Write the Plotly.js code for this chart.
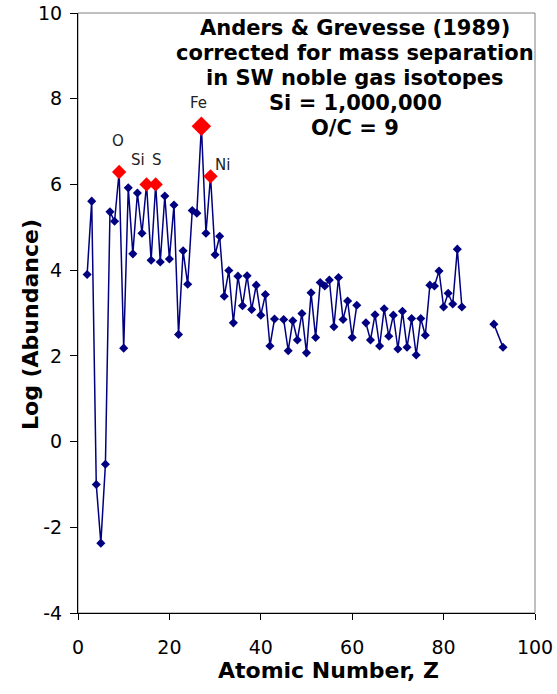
<!DOCTYPE html>
<html>
<head>
<meta charset="utf-8">
<script src="https://cdn.plot.ly/plotly-3.0.1.min.js"></script>
<style>html,body{margin:0;padding:0;background:#fff;}#chart{width:557px;height:694px;}</style>
</head>
<body>
<div id="chart"></div>
<script>
// Atomic number axis position (as plotted) and log abundance; null = no data (gap)
const atomicNumberX = [2,3,4,5,6,7,8,9,10,11,12,13,14,15,16,17,18,19,20,21,22,23,24,25,26,27,28,29,30,31,32,33,34,35,36,37,38,39,40,41,42,43,44,45,46,47,48,49,50,51,52,53,54,55,56,57,58,59,60,61,62,63,64,65,66,67,68,69,70,71,72,73,74,75,76,77,78,79,80,81,82,83,84,85,91,93];
const logAbundance = [3.90,5.61,-1.00,-2.37,-0.53,5.36,5.14,6.29,2.18,5.92,4.38,5.80,4.86,6.00,4.23,6.00,4.19,5.73,4.26,5.52,2.50,4.45,3.67,5.39,5.33,7.36,4.86,6.19,4.36,4.79,3.39,3.99,2.77,3.86,3.17,3.87,3.08,3.65,2.95,3.43,2.23,2.86,null,2.85,2.12,2.82,2.37,2.99,2.07,3.47,2.43,3.71,3.63,3.77,2.68,3.83,2.85,3.28,2.43,3.18,null,2.77,2.37,2.96,2.23,3.10,2.46,2.95,2.16,3.04,2.20,2.87,2.02,2.87,2.48,3.65,3.63,3.98,3.14,3.46,3.21,4.49,3.14,null,2.74,2.20];

// Highlighted elements
const highlightX = [9,15,17,27,29];
const highlightLabels = ['O','Si','S','Fe','Ni'];

// Tick values
const xTicks = [0,20,40,60,80,100];
const yTicks = [-4,-2,0,2,4,6,8,10];

const titleLines = ['Anders &amp; Grevesse (1989)','corrected for mass separation','in SW noble gas isotopes','Si = 1,000,000','O/C = 9'];
const xTitle = 'Atomic Number, Z';
const yTitle = 'Log (Abundance)';

// styling (not data)
const labelOffsets = {O:[-1,31], Si:[-9,24], S:[1,24], Fe:[-3,23], Ni:[12,11]};
const highlightSizes = {O:11, Si:11, S:11, Fe:15, Ni:11};

const highlightY = highlightX.map(x => logAbundance[atomicNumberX.indexOf(x)]);

const FONT = 'DejaVu Sans, Verdana, sans-serif';
const W = 557, H = 694, M = {l: 78, r: 22, t: 13, b: 81};
const PW = W - M.l - M.r, PH = H - M.t - M.b;
const px2paperX = p => (p - M.l) / PW;
const px2paperY = p => 1 - (p - M.t) / PH;

const traces = [
  {
    type: 'scatter', mode: 'lines+markers',
    x: atomicNumberX, y: logAbundance,
    connectgaps: false,
    line: {color: '#000080', width: 1.5},
    marker: {symbol: 'diamond', size: 7, color: '#000080', opacity: 1},
    hoverinfo: 'x+y', showlegend: false
  },
  {
    type: 'scatter', mode: 'markers',
    x: highlightX, y: highlightY,
    marker: {symbol: 'diamond', size: highlightLabels.map(l => highlightSizes[l]), color: '#ff0000', opacity: 1, line: {width: 0}},
    text: highlightLabels, hoverinfo: 'text+y', showlegend: false
  }
];

const annotations = highlightLabels.map((lab, i) => ({
  x: highlightX[i], y: highlightY[i], xref: 'x', yref: 'y',
  text: lab, showarrow: false,
  xshift: labelOffsets[lab][0], yshift: labelOffsets[lab][1],
  font: {family: FONT, size: 15, color: '#222'}
}));

// title block lines (centres in px)
const titleCentreX = 355, titleFirstY = 28, titleSpacing = 25;
titleLines.forEach((t, i) => annotations.push({
  xref: 'paper', yref: 'paper', x: px2paperX(titleCentreX), y: px2paperY(titleFirstY + i * titleSpacing),
  xanchor: 'center', yanchor: 'middle', showarrow: false,
  text: '<b>' + t + '</b>',
  font: {family: FONT, size: 21, color: '#000'}
}));

// axis titles
annotations.push({
  xref: 'paper', yref: 'paper', x: px2paperX(328), y: px2paperY(670),
  xanchor: 'center', yanchor: 'middle', showarrow: false,
  text: '<b>' + xTitle + '</b>', font: {family: FONT, size: 22, color: '#000'}
});
annotations.push({
  xref: 'paper', yref: 'paper', x: px2paperX(30), y: px2paperY(325),
  xanchor: 'center', yanchor: 'middle', showarrow: false, textangle: -90,
  text: '<b>' + yTitle + '</b>', font: {family: FONT, size: 22, color: '#000'}
});

const layout = {
  width: W, height: H,
  margin: M,
  paper_bgcolor: '#fff', plot_bgcolor: '#fff',
  font: {family: FONT, color: '#000'},
  xaxis: {
    range: [0, 100], tickvals: xTicks, ticktext: xTicks.map(String),
    showgrid: false, zeroline: false,
    showline: true, linecolor: '#000', linewidth: 1,
    ticks: 'outside', ticklen: 6, tickcolor: '#000',
    ticklabelstandoff: 11,
    tickfont: {family: FONT, size: 19, color: '#000'}
  },
  yaxis: {
    range: [-4, 10], tickvals: yTicks, ticktext: yTicks.map(String),
    showgrid: false, zeroline: false,
    showline: true, linecolor: '#000', linewidth: 1,
    ticks: 'outside', ticklen: 7, tickcolor: '#000',
    ticklabelstandoff: 4,
    tickfont: {family: FONT, size: 19, color: '#000'}
  },
  shapes: [{
    type: 'rect', xref: 'paper', yref: 'paper', x0: 0, x1: 1, y0: 0, y1: 1,
    line: {color: '#808080', width: 1}, layer: 'below'
  }],
  annotations: annotations
};

Plotly.newPlot('chart', traces, layout, {displayModeBar: false, staticPlot: true});
</script>
</body>
</html>
